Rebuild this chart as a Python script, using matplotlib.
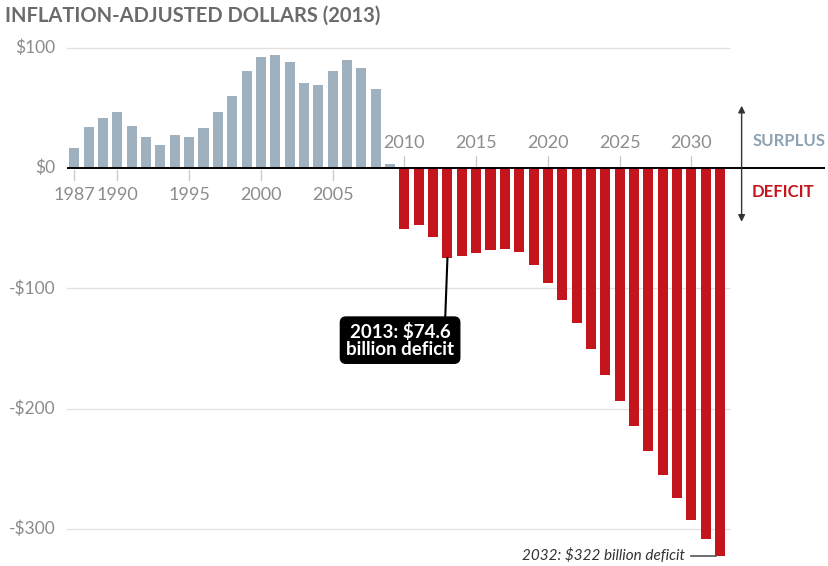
import numpy as np
import matplotlib.pyplot as plt

plt.rcParams['font.family'] = ['Lato', 'DejaVu Sans']

# surplus / deficit by year, billions of 2013 dollars
years = np.arange(1987, 2033)
values = [17, 34, 41.6, 46.5, 34.6, 26, 19.1, 27.7, 25.5, 33.2,
          46.5, 59.6, 80.9, 92, 93.6, 88.1, 70.4, 69.3, 80.3, 90,
          83.1, 65.9, 3,
          -50.9, -47.6, -57, -74.6, -73.3, -70.3, -67.8, -66.9, -69.7, -80.2,
          -95.6, -109.6, -128.7, -150.3, -172.2, -193.7, -214.3, -235, -255.3,
          -274, -292.4, -308, -322]
low_years = [1987, 1990, 1995, 2000, 2005]
high_years = [2010, 2015, 2020, 2025, 2030]
yticks = [100, 0, -100, -200, -300]
ylabels = ['$100', '$0', '-$100', '-$200', '-$300']

blue = '#9fb1be'
red = '#c4141c'
grey = '#8c8c8c'

fig = plt.figure(figsize=(8.29, 5.66), dpi=100)
ax = fig.add_axes([0.081, 0.0076, 0.914, 0.919])
ax.set_xlim(1986.5, 2039.3)
ax.set_ylim(-327, 105)
ax.axis('off')

# gridlines
for t in yticks:
    if t != 0:
        ax.plot([1986.5, 2032.6], [t, t], color='#e2e2e2', lw=1, zorder=0)

colors = [blue if v >= 0 else red for v in values]
ax.bar(years, values, width=0.7, color=colors, zorder=2)

ax.plot([1986.5, 2039.3], [0, 0], color='black', lw=1.4, zorder=3)

# y labels
for t, lab in zip(yticks, ylabels):
    ax.text(1985.7, t, lab, ha='right', va='center', fontsize=12.5, color=grey)

# x ticks and labels
for y in low_years:
    ax.plot([y, y], [-2, -10], color='#cccccc', lw=1, zorder=1)
    ax.text(y, -16, str(y), ha='center', va='top', fontsize=13, color=grey)
for y in high_years:
    ax.plot([y, y], [2, 10], color='#cccccc', lw=1, zorder=1)
    ax.text(y, 14, str(y), ha='center', va='bottom', fontsize=13, color=grey)

# surplus / deficit arrow
ax.annotate('', xy=(2033.5, 54), xytext=(2033.5, -47),
            arrowprops=dict(arrowstyle='<|-|>', color='#333333', lw=1,
                            mutation_scale=10))
ax.text(2034.3, 22, 'SURPLUS', ha='left', va='center', fontsize=12,
        fontweight='bold', color='#8da2b2')
ax.text(2034.2, -20, 'DEFICIT', ha='left', va='center', fontsize=12,
        fontweight='bold', color=red)

# 2013 callout
ax.plot([2012.85, 2013.0], [-123, -75], color='black', lw=1.5, zorder=4)
ax.text(2009.7, -143, '2013: $74.6\nbillion deficit', ha='center', va='center',
        fontsize=13.5, fontweight='bold', color='white', linespacing=1.0,
        bbox=dict(boxstyle='round,pad=0.3,rounding_size=0.3', fc='black', ec='black'))

# 2032 callout
ax.plot([2030.0, 2031.7], [-322, -322], color='#555555', lw=1.2)
ax.text(2029.55, -322, '2032: $322 billion deficit', ha='right', va='center',
        fontsize=11, style='italic', color='#333333')

fig.text(0.006, 0.973, 'INFLATION-ADJUSTED DOLLARS (2013)', ha='left', va='center',
         fontsize=14.5, fontweight='bold', color='#6b6b6b')

fig.savefig('out.png', dpi=100, facecolor='white')
